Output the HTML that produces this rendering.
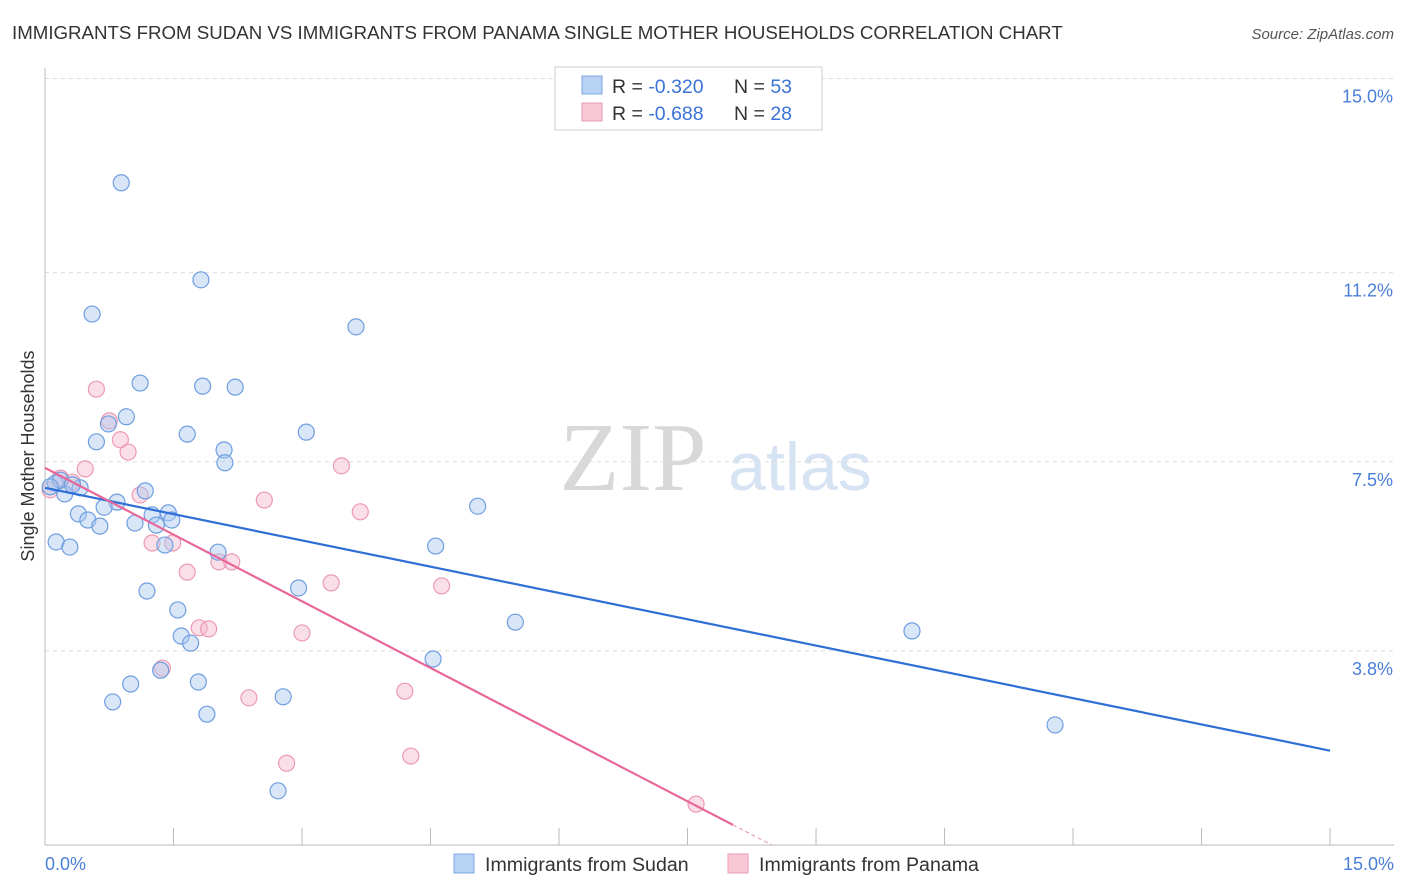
<!DOCTYPE html>
<html><head><meta charset="utf-8"><style>
body{margin:0;background:#fff;font-family:"Liberation Sans",sans-serif;}
#wrap{position:relative;width:1406px;height:892px;overflow:hidden;}
</style></head><body>
<div id="wrap">
<svg id="svg" width="1406" height="892" xmlns="http://www.w3.org/2000/svg">
<text x="12" y="39" font-size="18.7" fill="#333">IMMIGRANTS FROM SUDAN VS IMMIGRANTS FROM PANAMA SINGLE MOTHER HOUSEHOLDS CORRELATION CHART</text>
<text x="1394" y="39" font-size="15" fill="#555" font-style="italic" text-anchor="end">Source: ZipAtlas.com</text>
<text x="633" y="490" font-size="98" fill="#d8d8d8" font-family="Liberation Serif,serif" text-anchor="middle">ZIP</text>
<text x="800" y="490" font-size="68" fill="#d6e3f3" text-anchor="middle">atlas</text>
<g id="grid"></g>
<g id="marks"></g>
<text transform="translate(34,456) rotate(-90)" font-size="18" fill="#333" text-anchor="middle">Single Mother Households</text>
<text x="45" y="870" font-size="18" fill="#4a7fd8">0.0%</text>
<text x="1394" y="870" font-size="18" fill="#4a7fd8" text-anchor="end">15.0%</text>
<g>
<rect x="555" y="67" width="267" height="63" fill="#fff" stroke="#ccc"/>
<rect x="582" y="76" width="20" height="18" fill="#b8d2f4" stroke="#7ca7e2"/>
<rect x="582" y="103" width="20" height="18" fill="#f9c8d6" stroke="#ec9ab3"/>
<text x="612" y="93" font-size="19.5" fill="#333">R = <tspan fill="#3b73d6">-0.320</tspan></text>
<text x="734" y="93" font-size="19.5" fill="#333">N = <tspan fill="#3b73d6">53</tspan></text>
<text x="612" y="120" font-size="19.5" fill="#333">R = <tspan fill="#3b73d6">-0.688</tspan></text>
<text x="734" y="120" font-size="19.5" fill="#333">N = <tspan fill="#3b73d6">28</tspan></text>
</g>
<g>
<rect x="454" y="854" width="20" height="19" fill="#b8d2f4" stroke="#7ca7e2"/>
<text x="485" y="871" font-size="19.6" fill="#333">Immigrants from Sudan</text>
<rect x="728" y="854" width="20" height="19" fill="#f9c8d6" stroke="#ec9ab3"/>
<text x="759" y="871" font-size="19.6" fill="#333">Immigrants from Panama</text>
</g>
</svg>
</div>
<script>
const sudanX=[0.89,1.82,0.55,3.63,1.11,1.84,2.22,0.95,0.74,1.66,3.05,0.60,2.09,2.10,1.17,0.84,0.69,5.05,0.39,1.25,1.44,0.50,1.48,0.64,1.05,1.30,0.13,0.29,1.40,4.56,2.02,1.19,2.96,1.55,5.49,1.59,1.70,10.12,4.53,1.35,1.00,1.79,0.79,2.78,1.89,11.79,2.72,0.12,0.23,0.41,0.18,0.06,0.32];
const sudanY=[12.96,11.06,10.39,10.14,9.04,8.98,8.96,8.38,8.24,8.04,8.08,7.89,7.73,7.48,6.93,6.71,6.61,6.63,6.48,6.46,6.50,6.36,6.36,6.24,6.30,6.26,5.93,5.83,5.87,5.85,5.73,4.97,5.03,4.60,4.36,4.09,3.95,4.19,3.64,3.42,3.15,3.19,2.80,2.90,2.56,2.35,1.06,7.08,6.87,6.99,7.14,7.01,7.05];
const panamaX=[0.60,0.75,0.88,0.97,0.47,3.46,1.11,2.56,3.68,1.25,1.49,2.03,2.18,1.66,3.34,4.63,1.80,1.91,3.00,1.37,2.38,4.20,2.82,4.27,7.60,0.18,0.06,0.32];
const panamaY=[8.92,8.30,7.93,7.69,7.36,7.42,6.85,6.75,6.52,5.91,5.91,5.54,5.54,5.34,5.13,5.07,4.25,4.23,4.15,3.46,2.88,3.01,1.60,1.74,0.80,7.18,6.95,7.10];
const sudanTrend=[6.99,-0.343];   // intercept, slope
const panamaTrend=[7.38,-0.870];
const yTicks=[3.8,7.5,11.2,15.0];
const yTickLabels=["3.8%","7.5%","11.2%","15.0%"];
const xTicks=[0,1.5,3,4.5,6,7.5,9,10.5,12,13.5,15];

const X=v=>45+v*85.67, Y=v=>845-v*51.1;
const NS="http://www.w3.org/2000/svg";
function mk(tag,attrs,parent){const e=document.createElementNS(NS,tag);for(const k in attrs)e.setAttribute(k,attrs[k]);parent.appendChild(e);return e;}
const grid=document.getElementById('grid'), marks=document.getElementById('marks');
yTicks.forEach((t,i)=>{
  const l=mk('line',{x1:45,x2:1394,y1:Y(t),y2:Y(t),stroke:'#ddd','stroke-dasharray':'4,4'},grid);
  
  
  const tx=mk('text',{x:1393,y:Y(t)+24,'font-size':18,fill:'#4a7fd8','text-anchor':'end'},grid);
  tx.textContent=yTickLabels[i];
  
  
});
const ax=mk('line',{x1:45,x2:45,y1:68,y2:845,stroke:'#bbb'},grid);


const bx=mk('line',{x1:45,x2:1394,y1:845,y2:845,stroke:'#bbb'},grid);


xTicks.forEach(t=>{
  const l=mk('line',{x1:X(t),x2:X(t),y1:828,y2:845,stroke:'#bbb'},grid);
  
  
});
function dots(xs,ys,fill,stroke,name){
  xs.forEach((x,i)=>{
    const c=mk('circle',{cx:X(x),cy:Y(ys[i]),r:8,fill:fill,'fill-opacity':0.45,stroke:stroke,'stroke-width':1.2},marks);
    
    
  });
}
dots(panamaX,panamaY,'#f6b8cb','#ec9ab3','panama-point');
dots(sudanX,sudanY,'#a9c8f0','#6f9ee0','sudan-point');
const sl=mk('line',{x1:X(0),y1:Y(sudanTrend[0]),x2:X(15),y2:Y(sudanTrend[0]+15*sudanTrend[1]),stroke:'#2f6fd6','stroke-width':2.2},marks);


const xe=8.03, xz=-panamaTrend[0]/panamaTrend[1];
const pl=mk('line',{x1:X(0),y1:Y(panamaTrend[0]),x2:X(xe),y2:Y(panamaTrend[0]+xe*panamaTrend[1]),stroke:'#e8679a','stroke-width':2.2},marks);


const pd=mk('line',{x1:X(xe),y1:Y(panamaTrend[0]+xe*panamaTrend[1]),x2:X(xz),y2:Y(0),stroke:'#e8a0bb','stroke-width':1.2,'stroke-dasharray':'4,3'},marks);


</script>
</body></html>
